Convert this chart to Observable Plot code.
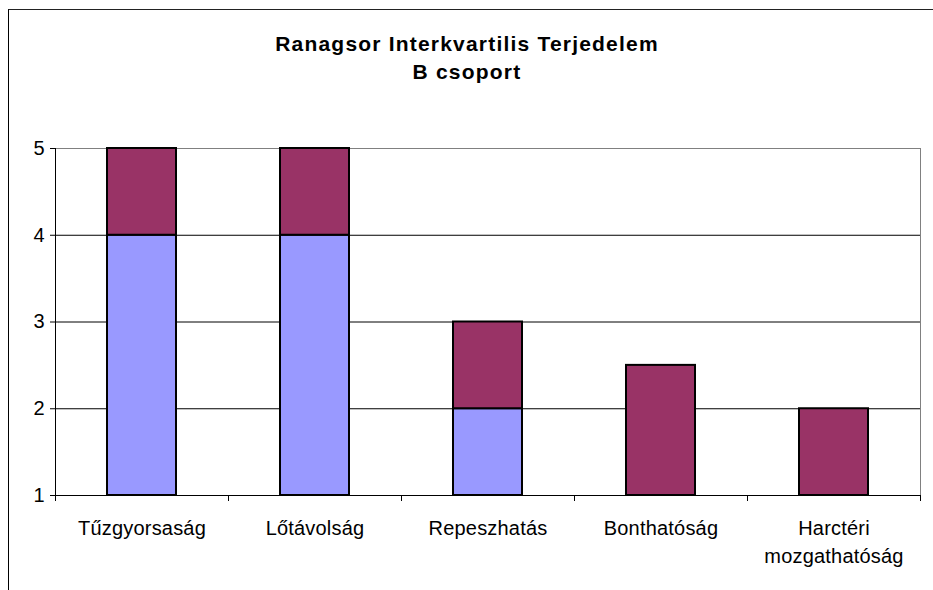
<!DOCTYPE html>
<html>
<head>
<meta charset="utf-8">
<script src="https://cdn.jsdelivr.net/npm/d3@7"></script>
<script src="https://cdn.jsdelivr.net/npm/@observablehq/plot@0.6"></script>
<style>
  html, body { margin: 0; padding: 0; background: #fff; overflow: hidden; }
  #wrap { position: relative; width: 933px; height: 590px; }
  #outer { position: absolute; left: 8px; top: 9px; width: 1200px; height: 1200px;
           border-left: 1.5px solid #000; border-top: 1.5px solid #222; pointer-events: none; }
  svg text { font-family: "Liberation Sans", Arial, sans-serif; }
</style>
</head>
<body>
<div id="wrap"><div id="chart"></div><div id="outer"></div></div>
<script>
const titleLines = ["Ranagsor Interkvartilis Terjedelem", "B csoport"];
const categories = ["Tűzgyorsaság", "Lőtávolság", "Repeszhatás", "Bonthatóság", "Harctéri mozgathatóság"];
const q1Values = [4, 4, 2, 1, 1];
const iqrValues = [1, 1, 1, 1.5, 1];
const yTicks = [1, 2, 3, 4, 5];
const gridValues = [2, 3, 4];

const width = 933, height = 590;
const marginLeft = 55, marginRight = 13, marginTop = 148, marginBottom = 95;
const step = (width - marginLeft - marginRight) / categories.length;
const titleDx = width / 2 - (marginLeft + (width - marginLeft - marginRight) / 2);

const rows = categories.map((c, i) => ({cat: c, q1: q1Values[i], q3: q1Values[i] + iqrValues[i]}));
const base = yTicks[0];

const chart = Plot.plot({
  width, height, marginLeft, marginRight, marginTop, marginBottom,
  style: {fontFamily: "Liberation Sans, Arial, sans-serif", fontSize: "20px", color: "#000", background: "#fff"},
  x: {domain: categories, paddingInner: 0.6, paddingOuter: 0.3, axis: null, label: null},
  y: {domain: [yTicks[0], yTicks[yTicks.length - 1]], axis: null, label: null},
  marks: [
    Plot.frame({stroke: "#808080", strokeWidth: 1}),
    Plot.ruleY(gridValues, {stroke: "#000", strokeWidth: 1}),
    Plot.barY(rows.filter(d => d.q1 > base), {x: "cat", y1: () => base, y2: "q1", fill: "#9999ff", stroke: "#000", strokeWidth: 2}),
    Plot.barY(rows, {x: "cat", y1: "q1", y2: "q3", fill: "#993366", stroke: "#000", strokeWidth: 2}),
    Plot.ruleY([base], {stroke: "#000", strokeWidth: 1}),
    Plot.frame({anchor: "left", stroke: "#000", strokeWidth: 1}),
    Plot.axisY({ticks: yTicks, tickSize: 5, tickPadding: 6, fontSize: 20, tickFormat: d3.format("d"), stroke: "#000", label: null}),
    Plot.axisX({tickSize: 6, dx: -step / 2, tickFormat: () => "", stroke: "#000", label: null}),
    Plot.axisX([categories[categories.length - 1]], {tickSize: 6, dx: step / 2, tickFormat: () => "", stroke: "#000", label: null}),
    Plot.text(categories, {x: d => d, text: d => d.replace(" ", "\n"), frameAnchor: "bottom", lineAnchor: "top",
      dy: 20, lineHeight: 1.4, fontSize: 20, fill: "#000"}),
    Plot.text([titleLines.join("\n")], {frameAnchor: "top", lineAnchor: "top", dy: -117, dx: titleDx,
      lineHeight: 1.33, fontSize: 21, fontWeight: "bold", fill: "#000"})
  ]
});
document.getElementById("chart").appendChild(chart);
const catJoined = categories.map(c => c.replace(" ", ""));
chart.querySelectorAll("text").forEach(t => {
  const s = t.textContent;
  if (s.startsWith(titleLines[0])) t.style.letterSpacing = "1.2px";
  else if (catJoined.includes(s)) t.style.letterSpacing = "0.2px";
});
</script>
</body>
</html>
